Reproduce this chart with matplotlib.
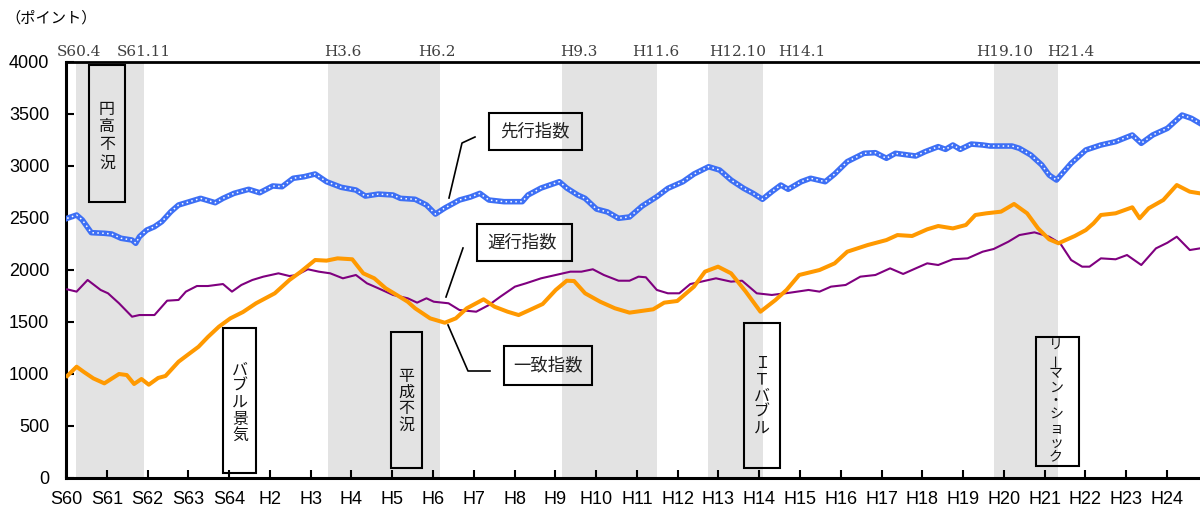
import matplotlib
matplotlib.use('Agg')
import matplotlib.pyplot as plt
from matplotlib.patches import Rectangle
from matplotlib.lines import Line2D

# ---------------- data ----------------
year_labels = ['S60', 'S61', 'S62', 'S63', 'S64'] + ['H%d' % i for i in range(2, 25)]
year_ticks = list(range(1985, 2013))

rec_start_labels = ['S60.4', 'H3.6', 'H9.3', 'H12.10', 'H19.10']
rec_end_labels = ['S61.11', 'H6.2', 'H11.6', 'H14.1', 'H21.4']

# 先行指数 (leading)
lead_t = [1985.03, 1985.26, 1985.40, 1985.62, 1985.94, 1986.12, 1986.35, 1986.62, 1986.71, 1986.80,
          1986.98, 1987.17, 1987.35, 1987.57, 1987.76, 1988.03, 1988.30, 1988.66, 1988.85, 1989.12,
          1989.48, 1989.75, 1990.07, 1990.30, 1990.57, 1990.84, 1991.11, 1991.39, 1991.75, 1992.11,
          1992.34, 1992.66, 1993.02, 1993.20, 1993.56, 1993.84, 1994.06, 1994.29, 1994.65, 1994.92,
          1995.15, 1995.37, 1995.74, 1996.19, 1996.33, 1996.65, 1997.10, 1997.28, 1997.55, 1997.73,
          1998.01, 1998.28, 1998.55, 1998.82, 1999.13, 1999.49, 1999.76, 2000.13, 2000.40, 2000.76,
          2001.03, 2001.31, 2001.62, 2001.85, 2002.08, 2002.31, 2002.53, 2002.71, 2003.03, 2003.26,
          2003.62, 2003.85, 2004.16, 2004.57, 2004.85, 2005.12, 2005.34, 2005.84, 2006.07, 2006.39,
          2006.57, 2006.75, 2006.93, 2007.20, 2007.48, 2007.66, 2008.20, 2008.38, 2008.66, 2008.93,
          2009.11, 2009.29, 2009.65, 2010.01, 2010.38, 2010.74, 2011.15, 2011.37, 2011.65, 2012.01,
          2012.37, 2012.60, 2012.81]
lead_v = [2497, 2529, 2481, 2359, 2353, 2346, 2305, 2288, 2257, 2320,
          2384, 2416, 2465, 2560, 2625, 2657, 2689, 2647, 2689, 2737,
          2776, 2743, 2808, 2801, 2882, 2897, 2923, 2849, 2795, 2769,
          2711, 2730, 2721, 2689, 2680, 2625, 2538, 2596, 2673, 2702,
          2737, 2673, 2657, 2657, 2721, 2788, 2849, 2788, 2721, 2689,
          2586, 2558, 2497, 2510, 2615, 2705, 2785, 2849, 2923, 2993,
          2961, 2865, 2785, 2737, 2680, 2753, 2817, 2776, 2849, 2882,
          2849, 2923, 3042, 3122, 3128, 3074, 3122, 3096, 3138, 3186,
          3160, 3202, 3160, 3211, 3202, 3192, 3192, 3170, 3106, 3010,
          2913, 2865, 3026, 3154, 3202, 3234, 3298, 3218, 3298, 3362,
          3490, 3458, 3410]

# 一致指数 (coincident)
coin_t = [1985.03, 1985.26, 1985.44, 1985.67, 1985.94, 1986.30, 1986.49, 1986.67, 1986.85, 1987.03,
          1987.26, 1987.44, 1987.76, 1987.98, 1988.25, 1988.48, 1988.75, 1989.03, 1989.34, 1989.66,
          1990.12, 1990.48, 1990.75, 1991.11, 1991.39, 1991.66, 1992.02, 1992.29, 1992.56, 1992.84,
          1993.11, 1993.38, 1993.56, 1993.93, 1994.29, 1994.56, 1994.83, 1995.24, 1995.51, 1995.83,
          1996.10, 1996.37, 1996.69, 1997.01, 1997.28, 1997.46, 1997.73, 1998.10, 1998.46, 1998.82,
          1999.40, 1999.67, 1999.99, 2000.40, 2000.67, 2000.99, 2001.31, 2001.67, 2002.03, 2002.40,
          2002.67, 2002.98, 2003.48, 2003.85, 2004.16, 2004.66, 2005.12, 2005.39, 2005.75, 2006.12,
          2006.39, 2006.75, 2007.07, 2007.30, 2007.57, 2007.93, 2008.25, 2008.57, 2008.84, 2009.11,
          2009.34, 2009.74, 2010.01, 2010.20, 2010.38, 2010.74, 2011.15, 2011.33, 2011.55, 2011.91,
          2012.24, 2012.56, 2012.81]
coin_v = [981, 1070, 1019, 958, 910, 1000, 990, 904, 952, 897,
          962, 981, 1118, 1183, 1262, 1356, 1455, 1535, 1596, 1680,
          1776, 1904, 1981, 2096, 2090, 2112, 2103, 1968, 1920, 1824,
          1760, 1695, 1632, 1535, 1493, 1535, 1632, 1718, 1647, 1599,
          1567, 1615, 1673, 1808, 1897, 1894, 1776, 1695, 1632, 1590,
          1622, 1686, 1702, 1840, 1984, 2032, 1968, 1792, 1599, 1712,
          1808, 1952, 2000, 2064, 2176, 2240, 2288, 2336, 2327, 2391,
          2423, 2400, 2433, 2529, 2545, 2561, 2635, 2545, 2400, 2295,
          2257, 2327, 2384, 2449, 2529, 2545, 2603, 2497, 2593, 2673,
          2817, 2753, 2737]

# 遅行指数 (lagging)
lag_t = [1985.03, 1985.26, 1985.53, 1985.85, 1986.03, 1986.30, 1986.62, 1986.80, 1987.17, 1987.35,
         1987.48, 1987.76, 1987.94, 1988.21, 1988.48, 1988.85, 1989.07, 1989.30, 1989.57, 1989.84,
         1990.21, 1990.48, 1990.66, 1990.93, 1991.20, 1991.48, 1991.79, 1992.11, 1992.38, 1992.66,
         1993.02, 1993.38, 1993.61, 1993.84, 1994.02, 1994.38, 1994.65, 1995.06, 1995.37, 1995.65,
         1996.01, 1996.28, 1996.65, 1997.01, 1997.37, 1997.64, 1997.92, 1998.19, 1998.55, 1998.82,
         1999.04, 1999.22, 1999.49, 1999.76, 2000.04, 2000.31, 2000.58, 2000.94, 2001.31, 2001.58,
         2001.94, 2002.31, 2002.76, 2003.21, 2003.48, 2003.76, 2004.12, 2004.48, 2004.85, 2005.21,
         2005.53, 2005.84, 2006.12, 2006.39, 2006.75, 2007.11, 2007.48, 2007.75, 2008.11, 2008.38,
         2008.75, 2009.11, 2009.38, 2009.65, 2009.92, 2010.10, 2010.38, 2010.74, 2011.02, 2011.37,
         2011.73, 2012.01, 2012.24, 2012.56, 2012.81]
lag_v = [1814, 1792, 1904, 1808, 1776, 1680, 1551, 1567, 1567, 1647,
         1705, 1712, 1792, 1846, 1846, 1865, 1792, 1856, 1904, 1936,
         1968, 1942, 1952, 2007, 1984, 1968, 1920, 1952, 1872, 1824,
         1760, 1728, 1686, 1728, 1695, 1680, 1615, 1599, 1663, 1743,
         1840, 1872, 1920, 1952, 1984, 1984, 2007, 1952, 1897, 1897,
         1936, 1930, 1808, 1776, 1776, 1865, 1888, 1920, 1888, 1897,
         1776, 1760, 1782, 1808, 1792, 1840, 1856, 1936, 1952, 2016,
         1962, 2016, 2064, 2048, 2103, 2112, 2176, 2202, 2272, 2336,
         2362, 2320, 2257, 2096, 2032, 2032, 2112, 2103, 2144, 2048,
         2208, 2262, 2320, 2192, 2208]

series_names = ['先行指数', '遅行指数', '一致指数']
period_names = ['円高不況', 'バブル景気', '平成不況', 'ＩＴバブル', 'リーマン・ショック']


def era_to_year(label, end=False):
    era = label[0]
    y, m = label[1:].split('.')
    base = 1925 if era == 'S' else 1988
    return base + int(y) + (int(m) - (0 if end else 1)) / 12.0


# ---------------- figure ----------------
W, H = 1200, 508
fig = plt.figure(figsize=(W / 100, H / 100), dpi=100)
plt.rcParams['font.family'] = ['Liberation Sans', 'Noto Sans CJK JP', 'DejaVu Sans']

ax = fig.add_axes([66 / W, 1 - 478 / H, (W - 66) / W, (478 - 62) / H])
ax.set_xlim(1985.0, 2012.81)
ax.set_ylim(0, 4000)

for s, e in zip(rec_start_labels, rec_end_labels):
    ax.axvspan(era_to_year(s), era_to_year(e, end=True), facecolor='#e3e3e3', lw=0, zorder=0)

ax.plot(lag_t, lag_v, color='#7f007f', lw=1.5, zorder=3)
ax.plot(coin_t, coin_v, color='#ff9900', lw=2.9, zorder=4)
ax.plot(lead_t, lead_v, color='#3d6ff5', lw=4.0, zorder=5, solid_joinstyle='round')
ax.plot(lead_t, lead_v, color='white', lw=1.1, ls=(0, (1, 2.2)), zorder=6)

ax.set_xticks(year_ticks)
ax.set_xticklabels(year_labels, fontsize=13)
ax.set_yticks(range(0, 4001, 500))
ax.set_yticklabels([str(v) for v in range(0, 4001, 500)], fontsize=13)
ax.tick_params(axis='both', direction='in', length=6, width=1.5)
ax.tick_params(axis='y', pad=12)
ax.tick_params(axis='x', pad=9)
ax.spines['right'].set_visible(False)
ax.spines['left'].set_linewidth(2.2)
ax.spines['bottom'].set_linewidth(2.2)
ax.spines['top'].set_linewidth(2.0)


def P(px, py):
    return px / W, 1 - py / H


# unit label
fig.text(*P(5, 18), '（ポイント）', fontsize=11, ha='left', va='center',
         family=['Noto Sans CJK JP', 'DejaVu Sans'])

# top period labels
top_label_px = [79, 144, 343, 437, 579, 656, 738, 802, 1005, 1071]
top_labels = []
for s, e in zip(rec_start_labels, rec_end_labels):
    top_labels += [s, e]
for lab, px in zip(top_labels, top_label_px):
    fig.text(*P(px, 52), lab, fontsize=11, ha='center', va='center',
             family='DejaVu Serif', color='#404040')


def box(x0, y0, x1, y1):
    fx0, fy1 = P(x0, y0)
    fx1, fy0 = P(x1, y1)
    fig.add_artist(Rectangle((fx0, fy0), fx1 - fx0, fy1 - fy0, transform=fig.transFigure,
                             fill=False, edgecolor='black', lw=1.5, zorder=10))


def vtext(cx, top, s, step, fs):
    for i, ch in enumerate(s):
        rot = 90 if ch == 'ー' else 0
        fig.text(*P(cx, top + step * (i + 0.5)), ch, ha='center', va='center', fontsize=fs,
                 rotation=rot, family=['Noto Sans CJK JP', 'DejaVu Sans'], color='#111111',
                 zorder=11)


period_boxes = [(89, 65, 125, 202), (223, 328, 256, 473), (391, 332, 422, 468),
                (744, 323, 780, 468), (1036, 337, 1079, 466)]
period_text = [(107, 100, 18.0, 11.5), (240, 362, 16.3, 11.5), (406, 368, 16.3, 11.5),
               (762, 355, 16.4, 11.5), (1056, 339, 13.8, 10)]
for name, b, t in zip(period_names, period_boxes, period_text):
    box(*b)
    vtext(t[0], t[1], name, t[2], t[3])

series_boxes = [(489, 113, 582, 150), (477, 224, 572, 261), (504, 346, 592, 385)]
series_text_pos = [(535, 131), (522, 242), (548, 365)]
connectors = [[(475, 137), (462, 143), (449, 198)],
              [(463, 248), (446, 297)],
              [(490, 371), (468, 371), (448, 325)]]
for name, b, tp, con in zip(series_names, series_boxes, series_text_pos, connectors):
    box(*b)
    fig.text(*P(*tp), name, ha='center', va='center', fontsize=12.5,
             family=['Noto Sans CJK JP', 'DejaVu Sans'], color='#222222', zorder=11)
    xs = [P(*p)[0] for p in con]
    ys = [P(*p)[1] for p in con]
    fig.add_artist(Line2D(xs, ys, transform=fig.transFigure, color='black', lw=1.2, zorder=10))

fig.savefig('out.png', dpi=100)
